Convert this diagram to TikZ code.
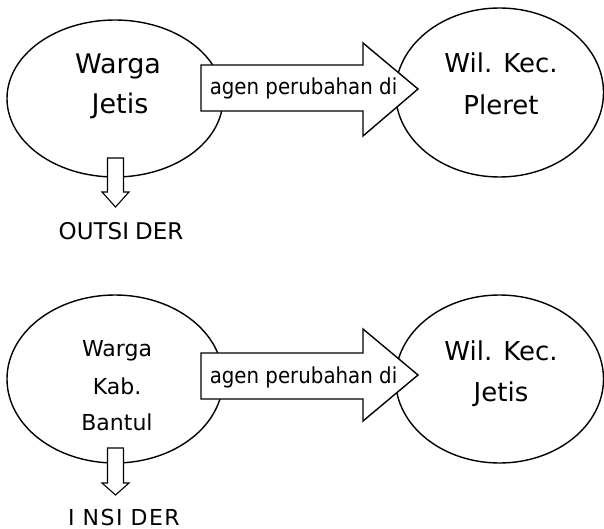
\documentclass[tikz,border=0pt]{standalone}
\usepackage{fontspec}
\setmainfont{DejaVu Sans}
\usepackage{graphicx}
\usetikzlibrary{shapes.geometric}
\begin{document}
\begin{tikzpicture}[x=1pt,y=-1pt,
  oval/.style={draw, ellipse, line width=1.4pt, inner sep=0pt, outer sep=0pt},
  blockarrow/.style={draw, fill=white, line width=1.4pt, line join=miter},
  downarrow/.style={draw, fill=white, line width=1.1pt, line join=miter},
  big/.style={anchor=base, inner sep=0pt, font=\fontsize{26}{30}\selectfont},
  mid/.style={anchor=base, inner sep=0pt, font=\fontsize{22}{26}\selectfont},
  arrowlbl/.style={anchor=base, inner sep=0pt, font=\fontsize{22}{26}\selectfont},
  tag/.style={anchor=base, inner sep=0pt, font=\fontsize{23}{27}\selectfont}]
\fill[white] (0,0) rectangle (604,529);
\useasboundingbox (0,0) rectangle (604,529);

% ---------- top ----------
\node[oval, minimum width=216pt, minimum height=157pt] (e1) at (115,98.5) {};
\node[oval, minimum width=208pt, minimum height=169pt] (e2) at (499.5,92.5) {};

\coordinate (a1s) at (201,88);
\coordinate (a1t) at (418,89);
\draw[blockarrow] (a1s) ++(0,-23) -- ++(162,0) -- ++(0,-22) -- (a1t)
  -- ++(-55,47) -- ++(0,-25) -- ++(-162,0) -- cycle;
\node[arrowlbl] (l1) at (303.5,95) {\scalebox{0.9}[1]{agen perubahan di}};

\node[big, font=\fontsize{27}{31}\selectfont] (t1a) at (118,74) {Warga};
\node[big, font=\fontsize{27}{31}\selectfont] (t1b) at (120,114) {Jetis};
\node[big] (t2a) at (501,73) {Wil. Kec.};
\node[big] (t2b) at (501,115) {Pleret};

\coordinate (d1s) at (115.5,158);
\coordinate (d1t) at (115.5,207);
\draw[downarrow] (d1s) ++(-8,0) -- ++(16,0) -- ++(0,34) -- ++(5.5,0) -- (d1t)
  -- ++(-13.5,-15) -- ++(5.5,0) -- cycle;
\node[tag] (o1) at (121,239) {OUTSI\kern6pt DER};

% ---------- bottom ----------
\node[oval, minimum width=216pt, minimum height=168pt] (e3) at (115,379) {};
\node[oval, minimum width=208pt, minimum height=168pt] (e4) at (499.5,379) {};

\coordinate (a2s) at (201,376);
\coordinate (a2t) at (418,375);
\draw[blockarrow] (a2s) ++(0,-23) -- ++(162,0) -- ++(0,-24) -- (a2t)
  -- ++(-55,46) -- ++(0,-22) -- ++(-162,0) -- cycle;
\node[arrowlbl] (l2) at (303.5,383) {\scalebox{0.9}[1]{agen perubahan di}};

\node[mid] (t3a) at (117,356) {Warga};
\node[mid] (t3b) at (117,394) {Kab.};
\node[mid] (t3c) at (117,430) {Bantul};
\node[big] (t4a) at (501,360) {Wil. Kec.};
\node[big] (t4b) at (501,401) {Jetis};

\coordinate (d2s) at (115.5,448);
\coordinate (d2t) at (115.5,495);
\draw[downarrow] (d2s) ++(-8,0) -- ++(16,0) -- ++(0,35) -- ++(5.5,0) -- (d2t)
  -- ++(-13.5,-12) -- ++(5.5,0) -- cycle;
\node[tag, font=\fontsize{22}{26}\selectfont] (o2) at (124,525)
  {I\kern8pt N\kern1.5pt S\kern1.5pt I\kern8pt D\kern1.5pt E\kern1.5pt R};
\end{tikzpicture}
\end{document}
